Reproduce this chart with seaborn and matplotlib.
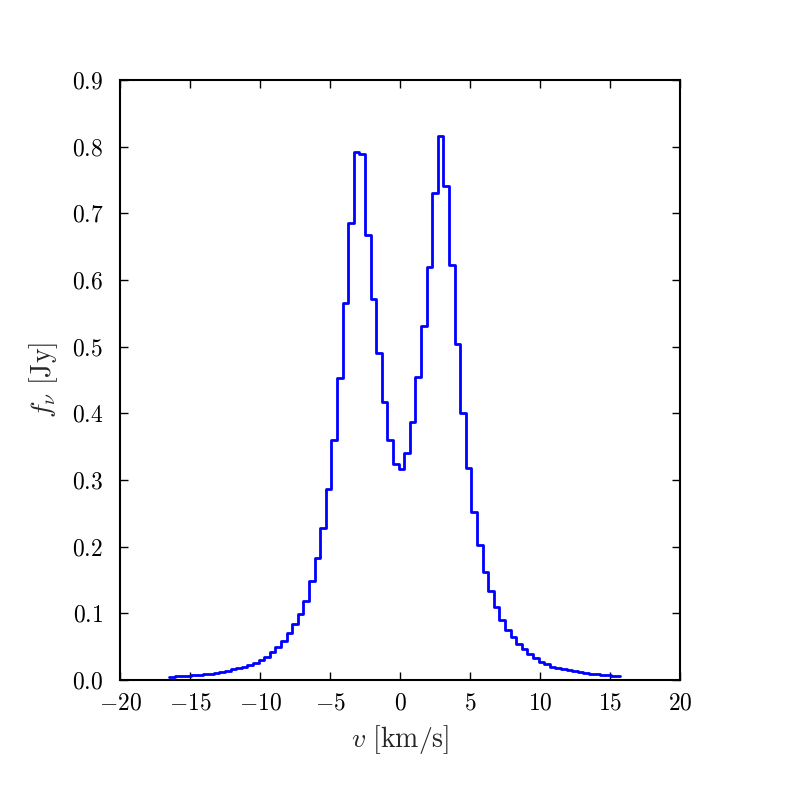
import numpy as np
import pandas as pd
import matplotlib
matplotlib.use("Agg")
import matplotlib.pyplot as plt
import seaborn as sns

# ---- data ----
v_start = -16.5      # first bin edge [km/s]
bin_width = 0.4      # km/s
v_end = 15.7         # last plotted velocity

flux = [0.005, 0.0055, 0.006, 0.0065, 0.007, 0.0075, 0.0085, 0.0095, 0.011, 0.0125,
        0.014, 0.016, 0.018, 0.020, 0.023, 0.026, 0.030, 0.035, 0.0425, 0.050,
        0.0585, 0.070, 0.084, 0.099, 0.119, 0.148, 0.1825, 0.2275, 0.2865, 0.360,
        0.4535, 0.565, 0.686, 0.7915, 0.7885, 0.667, 0.571, 0.490, 0.4175, 0.360,
        0.324, 0.316, 0.340, 0.3875, 0.454, 0.531, 0.620, 0.731, 0.8165, 0.7415,
        0.6225, 0.504, 0.400, 0.3175, 0.252, 0.202, 0.1615, 0.1335, 0.110, 0.090,
        0.075, 0.064, 0.054, 0.046, 0.039, 0.0325, 0.0275, 0.0235, 0.020, 0.018,
        0.016, 0.0145, 0.013, 0.0115, 0.0105, 0.0095, 0.0085, 0.008, 0.007, 0.0065,
        0.006]

x_ticks = [-20, -15, -10, -5, 0, 5, 10, 15, 20]
y_ticks = [0.0, 0.1, 0.2, 0.3, 0.4, 0.5, 0.6, 0.7, 0.8, 0.9]

edges = list(np.round(v_start + bin_width * np.arange(len(flux)), 3)) + [v_end]
vals = flux + [flux[-1]]
df = pd.DataFrame({"v": edges, "f": vals})

# ---- style ----
sns.set_style("ticks")
plt.rcParams.update({
    "font.family": "serif",
    "font.serif": ["cmr10", "DejaVu Serif"],
    "mathtext.fontset": "cm",
    "axes.formatter.use_mathtext": True,
    "axes.unicode_minus": True,
    "font.size": 17,
    "axes.linewidth": 1.5,
    "axes.edgecolor": "black",
    "xtick.direction": "in",
    "ytick.direction": "in",
    "xtick.top": True,
    "ytick.right": True,
    "xtick.major.size": 6,
    "ytick.major.size": 6,
    "xtick.major.width": 1.0,
    "ytick.major.width": 1.0,
    "xtick.color": "black",
    "ytick.color": "black",
})

fig = plt.figure(figsize=(8, 8), dpi=100)
ax = fig.add_axes([0.15, 0.15, 0.70, 0.75])

sns.lineplot(data=df, x="v", y="f", ax=ax, drawstyle="steps-post",
             color="#0000ff", linewidth=2.0, estimator=None, sort=False)

ax.set_xlim(-20, 20)
ax.set_ylim(0, 0.9)
ax.set_xticks(x_ticks)
ax.set_yticks(y_ticks)
ax.set_xticklabels([r"$%d$" % t if t >= 0 else r"$-%d$" % (-t) for t in x_ticks], fontsize=17)
ax.set_yticklabels([r"$%.1f$" % t for t in y_ticks], fontsize=17)
ax.tick_params(axis="y", which="major", pad=12)
ax.tick_params(axis="x", which="major", pad=9)
ax.set_xlabel(r"$v\ \mathrm{[km/s]}$", fontsize=20, labelpad=6)
ax.set_ylabel(r"$f_\nu\ \mathrm{[Jy]}$", fontsize=20, labelpad=8)
for s in ax.spines.values():
    s.set_visible(True)
    s.set_linewidth(1.5)

fig.savefig("out.png", dpi=100)
